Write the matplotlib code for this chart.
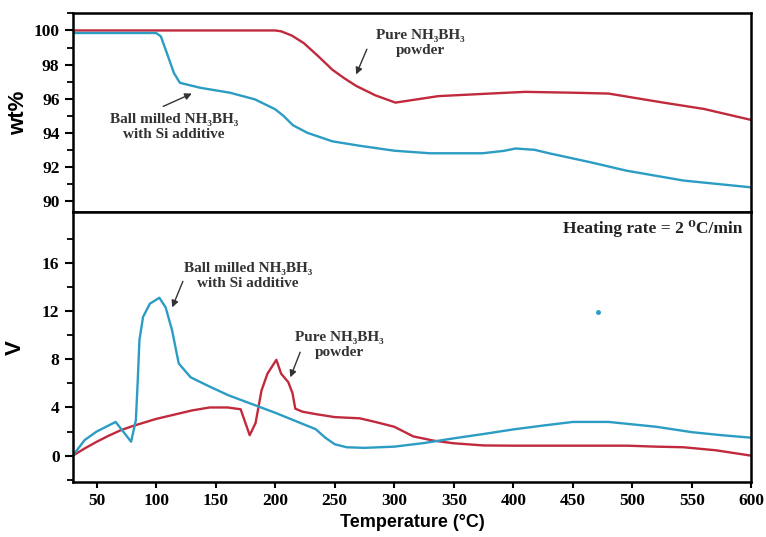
import matplotlib.pyplot as plt

# TGA (top) - wt%
t_pure_wt = [30, 100, 200, 205, 214, 224, 236, 248, 258, 268, 284, 301, 337, 380, 410, 450, 480, 526, 560, 600]
pure_wt = [100.0, 100.0, 100.0, 99.95, 99.7, 99.26, 98.5, 97.7, 97.2, 96.75, 96.2, 95.77, 96.15, 96.3, 96.4,
           96.35, 96.3, 95.77, 95.4, 94.75]

t_ball_wt = [30, 100, 104, 109, 115, 120, 137, 162, 183, 200, 207, 215, 227, 248, 271, 285, 300, 330,
             374, 392, 402, 418, 430, 465, 495, 543, 600]
ball_wt = [99.85, 99.85, 99.65, 98.68, 97.5, 96.93, 96.64, 96.35, 95.96, 95.38, 94.99, 94.44, 94.0, 93.5,
           93.24, 93.1, 92.95, 92.8, 92.8, 92.94, 93.08, 93.0, 92.8, 92.27, 91.78, 91.2, 90.8]

# bottom - V
t_pure_v = [30, 40, 50, 60, 70, 80, 90, 100, 115, 130, 145, 160, 171, 178.6, 183.5, 188.5, 193.5, 201,
            205, 211, 214.5, 216.9, 222.8, 234, 250, 271, 284, 300, 316, 333, 350, 375, 400, 450, 496,
            520, 543, 570, 600]
pure_v = [0, 0.6, 1.15, 1.65, 2.1, 2.45, 2.75, 3.05, 3.4, 3.75, 4.0, 4.0, 3.85, 1.7, 2.7, 5.4, 6.8, 7.95,
          6.8, 6.1, 5.2, 3.9, 3.65, 3.45, 3.2, 3.1, 2.8, 2.4, 1.6, 1.25, 1.03, 0.85, 0.83, 0.83, 0.83,
          0.75, 0.7, 0.45, 0.0]

t_ball_v = [30, 40, 50, 60, 66, 79, 83, 84.6, 86, 89, 94.7, 102.7, 108, 113.4, 119, 129, 145.6, 161,
            200, 234, 242, 250, 260, 275, 300, 325, 350, 375, 400, 425, 450, 480, 520, 550, 575, 600]
ball_v = [0, 1.3, 2.0, 2.5, 2.8, 1.16, 2.95, 6.3, 9.6, 11.5, 12.6, 13.1, 12.3, 10.4, 7.65, 6.5, 5.7, 5.0,
          3.56, 2.2, 1.5, 0.95, 0.7, 0.65, 0.75, 1.05, 1.44, 1.8, 2.18, 2.5, 2.8, 2.8, 2.4, 1.95, 1.7, 1.49]

stray_t = [471]
stray_v = [11.9]

xticks = [50, 100, 150, 200, 250, 300, 350, 400, 450, 500, 550, 600]

red = "#c02a3c"
blue = "#2b9cc3"
serif = ["Liberation Serif", "DejaVu Serif"]

fig = plt.figure(figsize=(7.66, 5.37), dpi=100)
ax1 = fig.add_axes([0.095, 0.605, 0.886, 0.371])
ax2 = fig.add_axes([0.095, 0.102, 0.886, 0.503])

ax1.plot(t_pure_wt, pure_wt, color=red, lw=1.7)
ax1.plot(t_ball_wt, ball_wt, color=blue, lw=1.7)
ax2.plot(t_pure_v, pure_v, color=red, lw=1.7)
ax2.plot(t_ball_v, ball_v, color=blue, lw=1.7)
ax2.plot(stray_t, stray_v, "o", color=blue, ms=2.5)

ax1.set_xlim(30, 600)
ax2.set_xlim(30, 600)
ax1.set_ylim(89.35, 101.03)
ax2.set_ylim(-2.2, 20.2)

ax1.set_yticks([90, 92, 94, 96, 98, 100])
ax1.set_yticks([91, 93, 95, 97, 99, 101], minor=True)
ax2.set_yticks([0, 4, 8, 12, 16])
ax2.set_yticks([-2, 2, 6, 10, 14, 18], minor=True)
ax2.set_xticks(xticks)
ax1.set_xticks([])

for ax in (ax1, ax2):
    for s in ax.spines.values():
        s.set_linewidth(1.8)
    ax.tick_params(axis="y", which="major", direction="out", length=6, width=1.5)
    ax.tick_params(axis="y", which="minor", direction="out", length=4, width=1.3)
    ax.tick_params(axis="x", direction="out", length=4, width=1.5)
    for lab in ax.get_yticklabels() + ax.get_xticklabels():
        lab.set_fontfamily(serif)
        lab.set_fontweight("bold")
        lab.set_fontsize(12.5)

ax1.set_ylabel("wt%", fontsize=16, fontweight="bold", family="Liberation Sans", labelpad=3)
ax2.set_ylabel("V", fontsize=16, fontweight="bold", family="Liberation Sans", labelpad=12)
ax2.set_xlabel("Temperature (°C)", fontsize=13, fontweight="bold", family="Liberation Sans", labelpad=4)

txt = dict(fontsize=11, fontweight="bold", family=serif, ha="center", va="center",
           color="#333333", linespacing=1.2)
arr = dict(arrowstyle="-|>", color="#333333", lw=1.0, mutation_scale=10, shrinkA=0, shrinkB=0)

ax1.text(322, 99.25, "Pure NH₃BH₃\npowder", **txt)
ax1.annotate("", xy=(268, 97.42), xytext=(277, 98.9), arrowprops=arr)
ax1.text(115, 94.33, "Ball milled NH₃BH₃\nwith Si additive", **txt)
ax1.annotate("", xy=(130, 96.3), xytext=(106, 95.55), arrowprops=arr)

ax2.text(177, 14.9, "Ball milled NH₃BH₃\nwith Si additive", **txt)
ax2.annotate("", xy=(113.5, 12.3), xytext=(122.5, 14.46), arrowprops=arr)
ax2.text(254, 9.16, "Pure NH₃BH₃\npowder", **txt)
ax2.annotate("", xy=(212.7, 6.5), xytext=(221, 8.58), arrowprops=arr)

ax2.text(0.987, 0.94, "Heating rate = 2 ⁰C/min", transform=ax2.transAxes, ha="right", va="center",
         fontsize=12.5, fontweight="bold", family=serif, color="#222222")

fig.savefig("out.png", dpi=100)
